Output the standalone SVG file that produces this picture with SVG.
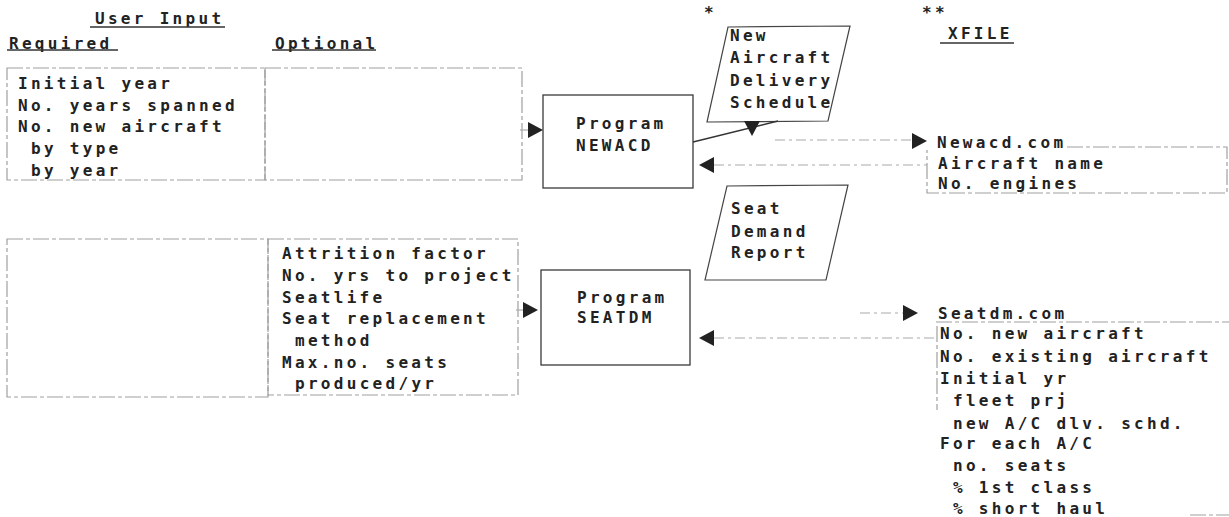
<svg xmlns="http://www.w3.org/2000/svg" width="1229" height="517" viewBox="0 0 1229 517">
<defs>
<style>
text{font-family:"DejaVu Sans Mono","Liberation Mono",monospace;font-size:16px;font-weight:bold;letter-spacing:3.3px;fill:#222;}
.ul{stroke:#333;stroke-width:1.3;}
.faint{fill:none;stroke:#a0a0a0;stroke-width:1.2;stroke-dasharray:16 3 4 3;}
.prog{fill:none;stroke:#3a3a3a;stroke-width:1.3;}
.para{fill:none;stroke:#444;stroke-width:1.2;}
.conn{fill:none;stroke:#aaa;stroke-width:1.2;stroke-dasharray:10 4 3 4;}
.solid{fill:none;stroke:#333;stroke-width:1.4;}
.head{fill:#222;}
</style>
<path id="tri" d="M0,-8 L15,0 L0,8 Z"/>
</defs>
<rect width="1229" height="517" fill="#fff"/>

<g id="user-input-header">
<text x="95" y="24">User Input</text>
<line class="ul" x1="90" y1="27" x2="225" y2="27"/>
<text x="9" y="49">Required</text>
<line class="ul" x1="7" y1="50" x2="118" y2="50"/>
<text x="275" y="49">Optional</text>
<line class="ul" x1="272" y1="50" x2="376" y2="50"/>
</g>

<g id="required-box-1">
<rect class="faint" x="7" y="68" width="258" height="112"/>
<text x="18" y="89">Initial year</text>
<text x="18" y="111">No. years spanned</text>
<text x="18" y="132">No. new aircraft</text>
<text x="31" y="154">by type</text>
<text x="31" y="176">by year</text>
</g>

<g id="optional-box-1">
<rect class="faint" x="265" y="68" width="257" height="112"/>
</g>

<g id="required-box-2">
<rect class="faint" x="7" y="239" width="261" height="158"/>
</g>

<g id="optional-box-2">
<rect class="faint" x="268" y="239" width="250" height="156"/>
<text x="282" y="259">Attrition factor</text>
<text x="282" y="281">No. yrs to project</text>
<text x="282" y="303">Seatlife</text>
<text x="282" y="324">Seat replacement</text>
<text x="295" y="346">method</text>
<text x="282" y="368">Max.no. seats</text>
<text x="295" y="389">produced/yr</text>
</g>

<g id="newacd">
<rect class="prog" x="543" y="95" width="150" height="93"/>
<text x="576" y="129">Program</text>
<text x="576" y="151">NEWACD</text>
</g>

<g id="seatdm">
<rect class="prog" x="541" y="270" width="149" height="95"/>
<text x="577" y="303">Program</text>
<text x="577" y="323">SEATDM</text>
</g>

<g id="delivery-schedule">
<text x="704" y="18">*</text>
<polygon class="para" points="728,27 850,26 828,121 707,122"/>
<text x="730" y="41">New</text>
<text x="730" y="63">Aircraft</text>
<text x="730" y="86">Delivery</text>
<text x="730" y="108">Schedule</text>
</g>

<g id="seat-demand-report">
<polygon class="para" points="727,186 848,185 826,280 705,280"/>
<text x="731" y="214">Seat</text>
<text x="731" y="237">Demand</text>
<text x="731" y="258">Report</text>
</g>

<g id="xfile-header">
<text x="922" y="18">**</text>
<text x="948" y="39">XFILE</text>
<line class="ul" x1="940" y1="43" x2="1014" y2="43"/>
</g>

<g id="newacd-com">
<text x="937" y="148">Newacd.com</text>
<polyline class="faint" points="1067,147 1227,147 1227,193 927,193 927,150"/>
<text x="938" y="169">Aircraft name</text>
<text x="938" y="189">No. engines</text>
</g>

<g id="seatdm-com">
<text x="938" y="319">Seatdm.com</text>
<line class="faint" x1="936" y1="322" x2="1229" y2="322"/>
<line class="faint" x1="937" y1="326" x2="937" y2="410"/>
<line class="faint" x1="1190" y1="515" x2="1229" y2="515"/>
<text x="940" y="339">No. new aircraft</text>
<text x="940" y="362">No. existing aircraft</text>
<text x="940" y="384">Initial yr</text>
<text x="953" y="406">fleet prj</text>
<text x="953" y="429">new A/C dlv. schd.</text>
<text x="940" y="449">For each A/C</text>
<text x="953" y="471">no. seats</text>
<text x="953" y="493">% 1st class</text>
<text x="953" y="514">% short haul</text>
</g>

<g id="connectors">
<line class="conn" x1="520" y1="130" x2="528" y2="130"/>
<use href="#tri" class="head" transform="translate(528,130)"/>
<line class="conn" x1="516" y1="310" x2="523" y2="310"/>
<use href="#tri" class="head" transform="translate(523,310)"/>
<line class="solid" x1="693" y1="142" x2="778" y2="121"/>
<use href="#tri" class="head" transform="translate(752,121) rotate(90)"/>
<line class="conn" x1="775" y1="140" x2="912" y2="140"/>
<use href="#tri" class="head" transform="translate(912,141)"/>
<line class="conn" x1="714" y1="165" x2="927" y2="165"/>
<use href="#tri" class="head" transform="translate(714,165) rotate(180)"/>
<line class="conn" x1="860" y1="313" x2="903" y2="313"/>
<use href="#tri" class="head" transform="translate(903,313)"/>
<line class="conn" x1="714" y1="338" x2="937" y2="338"/>
<use href="#tri" class="head" transform="translate(714,338) rotate(180)"/>
</g>
</svg>
